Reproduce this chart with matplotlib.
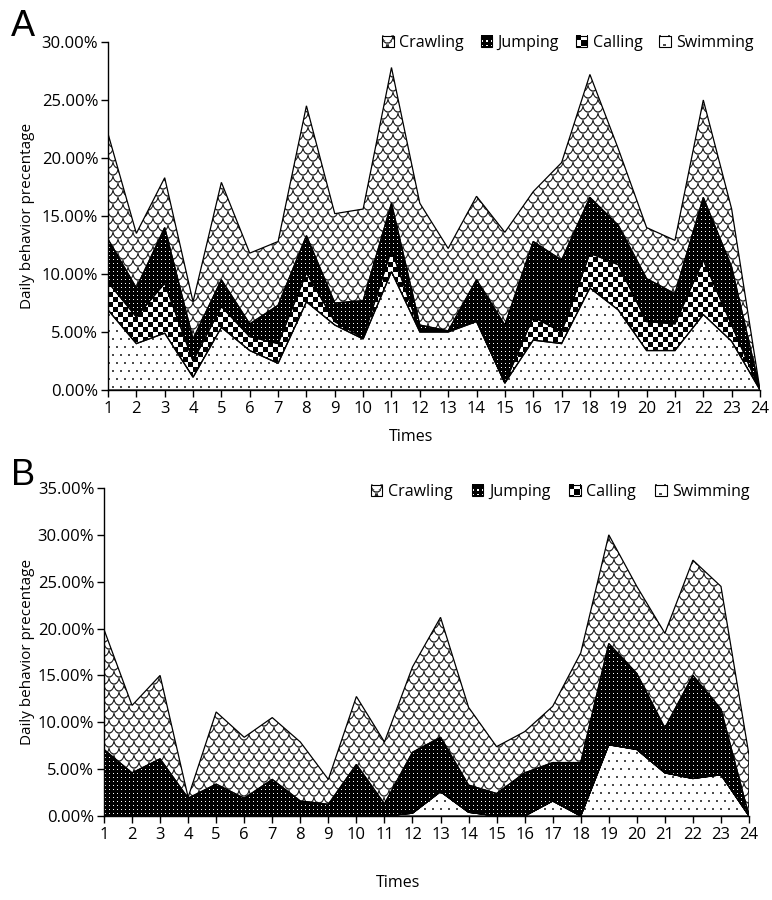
import numpy as np
import matplotlib
matplotlib.use("Agg")
import matplotlib.pyplot as plt
from matplotlib.patches import Polygon, Rectangle, Patch
from matplotlib.ticker import PercentFormatter, MultipleLocator
from matplotlib.legend_handler import HandlerBase
from matplotlib.image import BboxImage
from matplotlib.transforms import Bbox, TransformedBbox
from matplotlib.colors import Normalize

plt.rcParams['font.family'] = ['Open Sans', 'DejaVu Sans']

# ---------------- data (percent) ----------------
times = list(range(1, 25))
behaviors = ["Crawling", "Jumping", "Calling", "Swimming"]

# Panel A
a_swimming = [6.9, 4.0, 4.9, 1.1, 5.4, 3.4, 2.3, 7.6, 5.6, 4.4, 10.2, 5.0,
              5.0, 5.9, 0.6, 4.3, 4.0, 8.8, 6.9, 3.4, 3.4, 6.5, 4.2, 0.0]
a_calling = [2.4, 2.3, 4.3, 1.4, 1.8, 1.2, 1.7, 2.5, 0.3, 0.1, 1.9, 0.1,
             0.05, 0.1, 0.0, 2.0, 1.0, 3.0, 3.9, 2.5, 2.3, 4.7, 1.4, 0.0]
a_jumping = [3.7, 2.5, 4.8, 1.9, 2.3, 1.1, 3.3, 3.2, 1.6, 3.2, 4.0, 0.5,
             0.05, 3.5, 5.0, 6.5, 6.2, 4.8, 3.4, 3.7, 2.6, 5.4, 5.0, 0.0]
a_crawling = [9.1, 4.7, 4.3, 3.2, 8.4, 6.1, 5.5, 11.2, 7.7, 7.9, 11.7, 10.5,
              7.1, 7.2, 8.0, 4.3, 8.4, 10.6, 6.6, 4.4, 4.6, 8.4, 5.0, 0.0]

# Panel B
b_swimming = [0, 0, 0, 0, 0, 0, 0, 0, 0, 0, 0, 0.3,
              2.6, 0.4, 0, 0, 1.6, 0, 7.6, 7.1, 4.6, 4.0, 4.4, 0]
b_calling = [0] * 24
b_jumping = [7.1, 4.6, 6.1, 1.9, 3.4, 1.9, 3.9, 1.6, 1.25, 5.5, 1.3, 6.5,
             5.8, 2.9, 2.4, 4.6, 4.1, 5.7, 10.8, 8.1, 4.8, 11.0, 7.0, 0]
b_crawling = [12.8, 7.2, 8.9, 0.1, 7.7, 6.5, 6.6, 6.3, 2.65, 7.25, 6.6, 9.1,
              12.8, 8.3, 5.0, 4.4, 6.0, 11.7, 11.6, 9.3, 10.1, 12.3, 13.1, 6.5]

# ---------------- textures ----------------
def tex_swim(H, W):
    yy, xx = np.mgrid[0:H, 0:W]
    row = yy // 8
    m = ((yy % 8) < 2) & (((xx + (row % 2) * 4) % 8) < 2)
    a = np.ones((H, W))
    a[m] = 0.3
    return a

def tex_call(H, W):
    yy, xx = np.mgrid[0:H, 0:W]
    return (((xx // 5) + (yy // 5)) % 2).astype(float)

def tex_jump(H, W):
    yy, xx = np.mgrid[0:H, 0:W]
    a = np.zeros((H, W))
    m = ((yy % 4) == 1) & ((xx % 4) == 1)
    a[m] = 1.0
    return a

def tex_crawl(H, W):
    yy, xx = np.mgrid[0:H, 0:W].astype(float)
    Rx, Ry = 5.0, 7.0
    a = np.ones((H, W))
    j0 = np.floor(yy / Ry)
    for dj in (-1, 0):
        j = j0 + dj
        cy = j * Ry
        off = (j % 2) * Rx
        for di in (-1, 0, 1):
            i = np.floor((xx - off) / (2 * Rx)) + di
            cx = i * 2 * Rx + off + Rx
            dx = (xx + 0.5 - cx) / Rx
            dy = (yy + 0.5 - cy) / Ry
            r = np.sqrt(dx ** 2 + dy ** 2)
            d = np.abs(r - 1.0) * Rx
            v = np.clip(d / 0.9, 0, 1)
            ok = dy >= -0.05
            a = np.where(ok, np.minimum(a, v), a)
    return a

tex_funcs = {"Crawling": tex_crawl, "Jumping": tex_jump,
             "Calling": tex_call, "Swimming": tex_swim}


class TexHandler(HandlerBase):
    def __init__(self, arr):
        super().__init__()
        self.arr = arr

    def create_artists(self, legend, orig_handle, xdescent, ydescent,
                       width, height, fontsize, trans):
        s = min(width, height)
        x0 = -xdescent + (width - s) / 2
        y0 = -ydescent + (height - s) / 2
        bb = TransformedBbox(Bbox.from_bounds(x0, y0, s, s), trans)
        im = BboxImage(bb, cmap='gray', norm=Normalize(0, 1),
                       interpolation='nearest')
        im.set_data(self.arr)
        rect = Rectangle((x0, y0), s, s, facecolor='none', edgecolor='black',
                         linewidth=0.8, transform=trans)
        return [im, rect]


FW, FH = 772, 900
fig = plt.figure(figsize=(FW / 100, FH / 100), dpi=100)


def make_panel(px_box, series, ymax, letter, letter_y, xlabel_pos,
               leg_right, leg_y, colsp):
    left, top, right, bottom = px_box
    W, H = right - left, bottom - top
    ax = fig.add_axes([left / FW, 1 - bottom / FH, W / FW, H / FH])
    x = np.array(times, dtype=float)
    order = ["Swimming", "Calling", "Jumping", "Crawling"]
    base = np.zeros(len(x))
    for name in order:
        vals = np.array(series[name], dtype=float)
        upper = base + vals
        verts = np.column_stack([np.concatenate([x, x[::-1]]),
                                 np.concatenate([upper, base[::-1]])])
        arr = tex_funcs[name](H, W)
        im = ax.imshow(arr, cmap='gray', vmin=0, vmax=1,
                       extent=(x[0], x[-1], 0, ymax), origin='upper',
                       aspect='auto', interpolation='nearest', zorder=1)
        clip = Polygon(verts, closed=True, transform=ax.transData)
        im.set_clip_path(clip)
        outline = Polygon(verts, closed=True, facecolor='none',
                          edgecolor='black', linewidth=0.9, zorder=3)
        ax.add_patch(outline)
        base = upper
    ax.set_xlim(x[0], x[-1])
    ax.set_ylim(0, ymax)
    ax.set_xticks(times)
    ax.yaxis.set_major_locator(MultipleLocator(5))
    ax.yaxis.set_major_formatter(PercentFormatter(xmax=100, decimals=2))
    for sp in ("top", "right"):
        ax.spines[sp].set_visible(False)
    for sp in ("left", "bottom"):
        ax.spines[sp].set_linewidth(1.0)
        ax.spines[sp].set_zorder(4)
    ax.tick_params(axis='both', direction='out', length=5, width=1.0,
                   labelsize=12, colors='black')
    ax.tick_params(axis='y', pad=2)
    ax.tick_params(axis='x', pad=3)
    ax.set_ylabel("Daily behavior precentage", fontsize=11)
    ax.yaxis.set_label_coords((28 - left) / W, 0.5)
    ax.yaxis.label.set_va('center')
    ax.set_xlabel("Times", fontsize=11.5)
    ax.xaxis.set_label_coords(xlabel_pos[0], xlabel_pos[1])
    ax.xaxis.label.set_va('center')

    handles = [Patch(label=n) for n in behaviors]
    hmap = {h: TexHandler(tex_funcs[n](11, 11)) for h, n in zip(handles, behaviors)}
    fig.legend(handles=handles, labels=behaviors, handler_map=hmap,
               loc='center right', bbox_to_anchor=(leg_right / FW, 1 - leg_y / FH),
               ncol=4, frameon=False, fontsize=11.5, handlelength=0.72,
               handleheight=0.72, handletextpad=0.35, columnspacing=colsp,
               borderpad=0, borderaxespad=0)
    fig.text(11 / FW, 1 - letter_y / FH, letter, fontsize=26,
             family='Liberation Sans', va='center', ha='left')
    return ax


make_panel((108, 42, 760, 390),
           {"Swimming": a_swimming, "Calling": a_calling,
            "Jumping": a_jumping, "Crawling": a_crawling},
           30, "A", 26, ((411 - 108) / 652, (390 - 437) / 348), 754, 43, 1.05)

make_panel((104, 488, 749, 816),
           {"Swimming": b_swimming, "Calling": b_calling,
            "Jumping": b_jumping, "Crawling": b_crawling},
           35, "B", 476, ((398 - 104) / 645, (816 - 883) / 328), 750, 492, 1.2)

fig.savefig("out.png", dpi=100)
